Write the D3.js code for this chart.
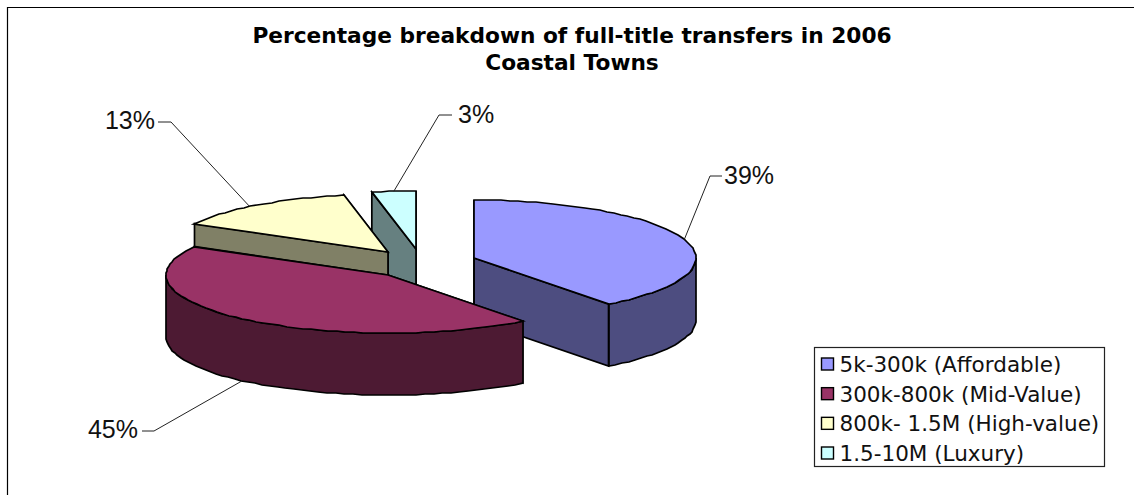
<!DOCTYPE html>
<html>
<head>
<meta charset="utf-8">
<script src="https://cdnjs.cloudflare.com/ajax/libs/d3/7.9.0/d3.min.js"></script>
<style>
html,body{margin:0;padding:0;background:#fff;overflow:hidden}
svg{display:block}
</style>
</head>
<body>
<svg id="chart" width="1134" height="495"></svg>
<script>
// Full-title transfers in 2006 by price band
const categories = ["5k-300k (Affordable)", "300k-800k (Mid-Value)", "800k- 1.5M (High-value)", "1.5-10M (Luxury)"];
const shares = [39, 45, 13, 3];
const topColors = ["#9999ff", "#993366", "#ffffcc", "#ccffff"];
const sideColors = ["#4d4d80", "#4d1a33", "#808066", "#668080"];
const titleLines = ["Percentage breakdown of full-title transfers in 2006", "Coastal Towns"];

// Each slice is pulled away from the pie on its own, so every one has its own centre
const centers = [[474, 258], [388, 275], [388, 252], [416, 249]];
const rx = 222, ry = 58, depth = 62;
// Leader lines: where along the slice they start, their elbow and end, and the label anchor
const leaders = [
  {at: 0.5, elbow: [710, 176], end: [722, 176], text: [724, 184], anchor: "start", onWall: false},
  {at: 0.5, elbow: [154, 431], end: [142, 431], text: [138, 438], anchor: "end", onWall: true},
  {at: 0.45, elbow: [171, 122], end: [158, 122], text: [155, 129], anchor: "end", onWall: false},
  {at: 0.5, elbow: [439, 115], end: [452, 115], text: [458, 123], anchor: "start", onWall: false}
];

const svg = d3.select("#chart");
const pie = d3.pie().sort(null).value(d => d);

// Viewing the disc in perspective pulls the rim angles slightly toward the near side
const perspective = a => a + 0.063 * Math.sin(a);
const arcs = pie(shares).map(d => ({
  value: d.data,
  startAngle: perspective(d.startAngle),
  endAngle: perspective(d.endAngle)
}));

const rim = (c, a, dz = 0) => [c[0] + rx * Math.sin(a), c[1] - ry * Math.cos(a) + dz];
// Rim sampled to whole pixels, which gives the edges their slightly stepped look
const rimPoints = (c, a0, a1, dz = 0) => {
  const n = Math.max(2, Math.ceil(Math.abs(a1 - a0) * rx / 9));
  return d3.range(n + 1).map(i => {
    const p = rim(c, a0 + (a1 - a0) * i / n, dz);
    return [Math.round(p[0]), Math.round(p[1])];
  });
};
const line = d3.line();
const poly = pts => line(pts) + "Z";
const stroke = (sel) => sel.attr("stroke", "#000").attr("stroke-width", 1.7).attr("stroke-linejoin", "miter");

// Frame: only the top and left rules of the chart area fall inside the page
svg.append("path").attr("d", "M7.5,495V7.5H1134").attr("fill", "none").attr("stroke", "#000").attr("stroke-width", 1.2);

svg.append("g").selectAll("text").data(titleLines).join("text")
  .attr("x", 572).attr("y", (d, i) => 43 + i * 27)
  .attr("text-anchor", "middle")
  .attr("font-family", "'DejaVu Sans', sans-serif").attr("font-weight", "bold").attr("font-size", 21.7)
  .text(d => d);

// Back slices first so the nearer ones overlap them
const drawOrder = [3, 2, 0, 1];
const pieGroup = svg.append("g");
drawOrder.forEach(i => {
  const d = arcs[i], c = centers[i];
  const g = pieGroup.append("g");
  const side = sideColors[i];
  const face = a => {
    const p = rim(c, a);
    g.append("path").attr("d", poly([c, p, [p[0], p[1] + depth], [c[0], c[1] + depth]]))
      .attr("fill", side).call(stroke);
  };
  face(d.endAngle);
  face(d.startAngle);
  // Outer wall: only the part of the rim that faces the viewer
  const a0 = Math.max(d.startAngle, Math.PI / 2), a1 = Math.min(d.endAngle, Math.PI * 1.5);
  if (a1 > a0) {
    g.append("path")
      .attr("d", poly(rimPoints(c, a0, a1).concat(rimPoints(c, a1, a0, depth))))
      .attr("fill", side).call(stroke);
  }
  g.append("path")
    .attr("d", poly([c].concat(rimPoints(c, d.startAngle, d.endAngle))))
    .attr("fill", topColors[i]).call(stroke);
});

// Leader lines start from the rim of their slice
const labels = svg.append("g");
arcs.forEach((d, i) => {
  const l = leaders[i];
  const start = rim(centers[i], d.startAngle + (d.endAngle - d.startAngle) * l.at, l.onWall ? depth : 0);
  labels.append("path").attr("d", line([start, l.elbow, l.end]))
    .attr("fill", "none").attr("stroke", "#222").attr("stroke-width", 1);
  labels.append("text").attr("x", l.text[0]).attr("y", l.text[1])
    .attr("text-anchor", l.anchor)
    .attr("font-family", "'Liberation Sans', Arial, sans-serif").attr("font-size", 25)
    .attr("fill", "#111")
    .text(d.value + "%");
});

// Legend
const legend = svg.append("g").attr("transform", "translate(814.5,347.5)");
legend.append("rect").attr("width", 290).attr("height", 119)
  .attr("fill", "#fff").attr("stroke", "#222").attr("stroke-width", 1.2);
const row = d3.scalePoint().domain(categories).range([16.5, 105.5]);
const item = legend.selectAll("g").data(categories).join("g")
  .attr("transform", d => `translate(0,${row(d)})`);
item.append("rect").attr("x", 7).attr("y", -6).attr("width", 12).attr("height", 12)
  .attr("fill", (d, i) => topColors[i]).attr("stroke", "#000").attr("stroke-width", 1.4);
item.append("text").attr("x", 25).attr("y", 8)
  .attr("font-family", "'DejaVu Sans', Verdana, sans-serif").attr("font-size", 21.5).attr("fill", "#111")
  .text(d => d);
</script>
</body>
</html>
